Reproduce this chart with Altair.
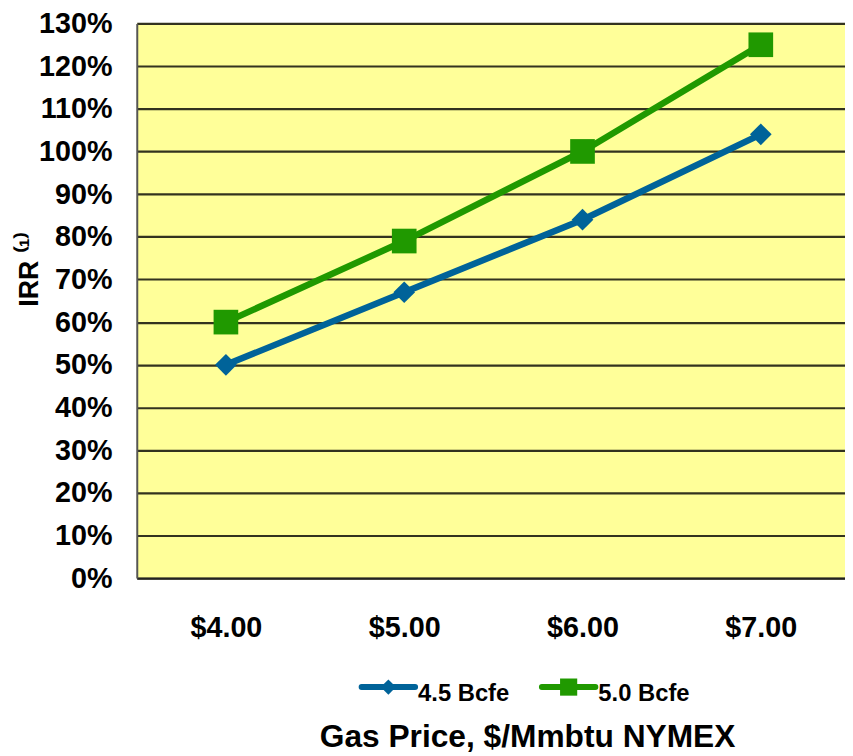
import altair as alt
import pandas as pd

prices = [4.0, 5.0, 6.0, 7.0]
series_names = ["4.5 Bcfe", "5.0 Bcfe"]
irr_45 = [50, 67, 84, 104]
irr_50 = [60, 79, 100, 125]
colors = ["#006399", "#209900"]
marker_shapes = ["diamond", "square"]
y_ticks = list(range(0, 131, 10))

rows = []
for p, v in zip(prices, irr_45):
    rows.append({"price": p, "irr": v, "series": series_names[0]})
for p, v in zip(prices, irr_50):
    rows.append({"price": p, "irr": v, "series": series_names[1]})
df = pd.DataFrame(rows)

W = 715
H = 560
step = 180
x_dom = [3.5, 3.5 + W / step]

FONT = "Liberation Sans"

x_enc = alt.X(
    "price:Q",
    scale=alt.Scale(domain=x_dom, nice=False, zero=False),
    axis=alt.Axis(
        values=prices,
        labelExpr="'$' + format(datum.value, '.2f')",
        title="Gas Price, $/Mmbtu NYMEX",
        titleFont=FONT, titleFontSize=32, titleFontWeight="bold", titleColor="#000",
        titleX=394, titleY=170, titleBaseline="alphabetic", titleAnchor="middle", titleAlign="center",
        labelFont=FONT, labelFontSize=29, labelFontWeight="bold", labelColor="#000",
        labelPadding=36, ticks=False, grid=False,
        domainColor="#222", domainWidth=2,
    ),
)
y_enc = alt.Y(
    "irr:Q",
    scale=alt.Scale(domain=[0, 130], nice=False),
    axis=alt.Axis(
        values=y_ticks,
        labelExpr="datum.value + '%'",
        title="IRR ⁽¹⁾",
        titleFont=FONT, titleFontSize=27, titleFontWeight="bold", titleColor="#000",
        titleX=-108, titleY=248, titleAngle=-90, titleAlign="center", titleBaseline="middle",
        labelFont=FONT, labelFontSize=29, labelFontWeight="bold", labelColor="#000",
        labelPadding=25, ticks=False,
        grid=True, gridColor="#33331f", gridWidth=2.2, gridOpacity=1,
        domainColor="#555", domainWidth=2,
    ),
)

color_scale = alt.Scale(domain=series_names, range=colors)

layers = [
    alt.Chart(df).mark_line(strokeWidth=6.5).encode(
        x=x_enc, y=y_enc,
        color=alt.Color("series:N", scale=color_scale, legend=None),
    )
]

marker_sizes = [480, 620]
for name, shp, sz in zip(series_names, marker_shapes, marker_sizes):
    layers.append(
        alt.Chart(df).transform_filter(alt.datum.series == name).mark_point(
            shape=shp, filled=True, size=sz, opacity=1
        ).encode(x="price:Q", y="irr:Q",
                 color=alt.Color("series:N", scale=color_scale, legend=None))
    )

# manual legend below the chart (line + marker + label per series)
legend_sizes = [240, 300]
for i, (name, col, shp, sz) in enumerate(zip(series_names, colors, marker_shapes, legend_sizes)):
    x0 = 227 + 182 * i
    one = pd.DataFrame({"series": [name]})
    layers.append(alt.Chart(one).mark_rule(strokeWidth=6, strokeCap="round", color=col).encode(
        x=alt.value(x0), x2=alt.value(x0 + 54), y=alt.value(670)))
    layers.append(alt.Chart(one).mark_point(shape=shp, filled=True, size=sz, opacity=1, color=col).encode(
        x=alt.value(x0 + 27), y=alt.value(670)))
    layers.append(alt.Chart(one).mark_text(
        align="left", baseline="middle", font=FONT, fontSize=24, fontWeight="bold", color="#000"
    ).encode(x=alt.value(x0 + 57), y=alt.value(677), text="series:N"))

chart = alt.layer(*layers).properties(
    width=W, height=H,
    autosize=alt.AutoSizeParams(type="none"),
    padding={"left": 130, "top": 12, "right": 0, "bottom": 176},
    background="white",
).configure_view(
    fill="#FFFF99", stroke=None,
)

chart.save("out.html", embed_options={"renderer": "svg", "actions": False})
